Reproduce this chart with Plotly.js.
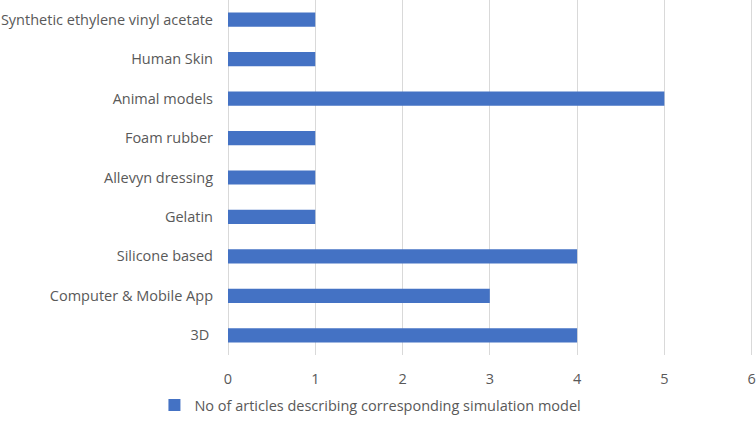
<!DOCTYPE html>
<html>
<head>
<meta charset="utf-8">
<script src="https://cdn.plot.ly/plotly-3.0.1.min.js"></script>
<style>
  html, body { margin: 0; padding: 0; background: #fff; }
  #chart { width: 756px; height: 421px; }
</style>
</head>
<body>
<div id="chart"></div>
<script>
// categories listed bottom to top, as plotly draws them
const models = [
    "3D ",
    "Computer & Mobile App",
    "Silicone based",
    "Gelatin",
    "Allevyn dressing",
    "Foam rubber",
    "Animal models",
    "Human Skin",
    "Synthetic ethylene vinyl acetate"
]
const articleCounts = [4, 3, 4, 1, 1, 1, 5, 1, 1]
const seriesName = "No of articles describing corresponding simulation model"

const textGray = "#595959"

const data = [{
    type: "bar",
    orientation: "h",
    name: seriesName,
    y: models,
    x: articleCounts,
    width: 0.36,
    marker: { color: "#4472C4" },
    showlegend: true
}]

const layout = {
    width: 756,
    height: 421,
    margin: { l: 228, r: 0, t: 0, b: 66 },
    font: { family: "Open Sans, sans-serif", size: 14.5, color: textGray },
    paper_bgcolor: "#FFFFFF",
    plot_bgcolor: "#FFFFFF",
    xaxis: {
        range: [0, 6.05],
        tickvals: [0, 1, 2, 3, 4, 5, 6],
        showgrid: true,
        gridcolor: "#D9D9D9",
        gridwidth: 1,
        zeroline: true,
        zerolinecolor: "#D9D9D9",
        zerolinewidth: 1,
        showline: false,
        ticks: "",
        ticklabelstandoff: 13,
        tickfont: { size: 14.5, color: textGray },
        fixedrange: true
    },
    yaxis: {
        type: "category",
        showgrid: false,
        zeroline: false,
        showline: false,
        ticks: "",
        ticklabelstandoff: 14,
        tickfont: { size: 14.5, color: textGray },
        fixedrange: true
    },
    legend: {
        orientation: "h",
        xref: "container",
        yref: "container",
        x: 0.49,
        xanchor: "center",
        y: -0.036,
        yanchor: "bottom",
        font: { size: 14.5, color: textGray },
        itemwidth: 30
    }
}

const config = { staticPlot: true, displayModeBar: false }

Plotly.newPlot("chart", data, layout, config)
</script>
</body>
</html>
